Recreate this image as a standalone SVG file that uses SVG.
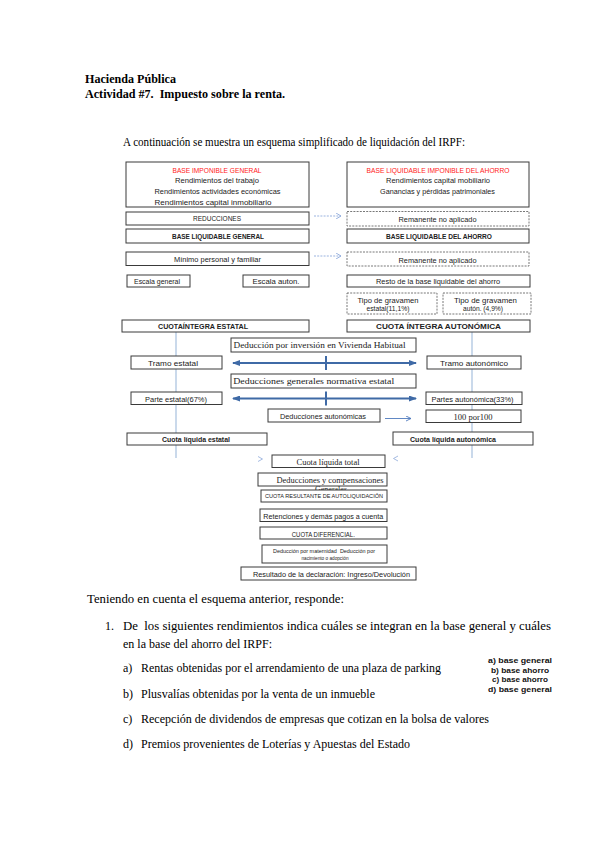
<svg xmlns="http://www.w3.org/2000/svg" width="599" height="848" viewBox="0 0 599 848">
<defs>
<style>
.bx{fill:#fff;stroke:#3a3a3a;stroke-width:1}
.db{fill:#fff;stroke:#555;stroke-width:0.8;stroke-dasharray:2 1.2}
.s{font-family:"Liberation Sans",Arial,sans-serif;font-size:7px;fill:#222;text-anchor:middle}
.sf{font-family:"Liberation Serif","Times New Roman",serif;font-size:8px;fill:#222;text-anchor:middle}
.b{font-weight:bold}
.red{fill:#ff1a1a}
.t{font-family:"Liberation Serif","Times New Roman",serif;font-size:12px;fill:#000}
.hd{font-weight:bold}
.ans{font-family:"Liberation Sans",Arial,sans-serif;font-size:8px;font-weight:bold;fill:#111;text-anchor:middle}
.vl{stroke:#95b3d7;stroke-width:1;fill:none}
.big{stroke:#3f6aa6;stroke-width:2;fill:none}
.da{stroke:#8eaadb;stroke-width:0.9;stroke-dasharray:2 1.2;fill:none}
.thin{stroke:#4f7bbd;stroke-width:0.9;fill:none}
</style>
<marker id="ah" markerWidth="8" markerHeight="6" refX="7" refY="3" orient="auto-start-reverse" markerUnits="userSpaceOnUse">
<path d="M0,0 L8,3 L0,6 Z" fill="#3f6aa6"/>
</marker>
<marker id="oc" markerWidth="6" markerHeight="6" refX="5" refY="3" orient="auto" markerUnits="userSpaceOnUse">
<path d="M0,0 L5,3 L0,6" fill="none" stroke="#8eaadb" stroke-width="0.9"/>
</marker>
<marker id="oc2" markerWidth="6" markerHeight="6" refX="5" refY="3" orient="auto" markerUnits="userSpaceOnUse">
<path d="M0,0.5 L5,3 L0,5.5" fill="none" stroke="#4f7bbd" stroke-width="0.9"/>
</marker>
<clipPath id="genclip"><rect x="258" y="486" width="130" height="4"/></clipPath>
</defs>

<g id="header">
<text class="t hd" x="85" y="83" textLength="91" lengthAdjust="spacingAndGlyphs">Hacienda Pública</text>
<text class="t hd" x="85" y="98" xml:space="preserve" textLength="200" lengthAdjust="spacingAndGlyphs">Actividad #7.  Impuesto sobre la renta.</text>
<text class="t" x="123" y="146" textLength="342" lengthAdjust="spacingAndGlyphs">A continuación se muestra un esquema simplificado de liquidación del IRPF:</text>
</g>

<g id="connectors">
<line class="vl" x1="176" y1="332" x2="176" y2="458"/>
<line class="vl" x1="472" y1="332" x2="472" y2="458"/>
<line class="da" x1="314" y1="216" x2="341" y2="216" marker-end="url(#oc)"/>
<line class="da" x1="314" y1="256" x2="341" y2="256" marker-end="url(#oc)"/>
<line class="big" x1="233" y1="363" x2="416" y2="363" marker-start="url(#ah)" marker-end="url(#ah)"/>
<line class="big" x1="326" y1="356" x2="326" y2="370"/>
<line class="big" x1="233" y1="398.5" x2="416" y2="398.5" marker-start="url(#ah)" marker-end="url(#ah)"/>
<line class="big" x1="326" y1="391.5" x2="326" y2="405.5"/>
<line class="thin" x1="385" y1="418.5" x2="411" y2="418.5" marker-end="url(#oc2)"/>
<path d="M258,456.5 L262.5,459 L258,461.5" fill="none" stroke="#8eaadb" stroke-width="0.8"/>
<path d="M398,456 L393.5,458.5 L398,461" fill="none" stroke="#8eaadb" stroke-width="0.8"/>
</g>

<g id="n-base-imponible-general">
<rect class="bx" x="126" y="162" width="183" height="45"/>
<text class="s red" x="217" y="173" textLength="89" lengthAdjust="spacingAndGlyphs">BASE IMPONIBLE GENERAL</text>
<text class="s" x="217" y="183" textLength="84" lengthAdjust="spacingAndGlyphs">Rendimientos del trabajo</text>
<text class="s" x="217.5" y="193.5" textLength="126" lengthAdjust="spacingAndGlyphs">Rendimientos actividades económicas</text>
<text class="s" x="213" y="205" textLength="117" lengthAdjust="spacingAndGlyphs">Rendimientos capital inmobiliario</text>
</g>
<g id="n-reducciones">
<rect class="bx" x="126" y="212" width="183" height="13"/>
<text class="s" x="217" y="221" textLength="48" lengthAdjust="spacingAndGlyphs">REDUCCIONES</text>
</g>
<g id="n-base-liquidable-general">
<rect class="bx" x="126" y="229" width="183" height="14"/>
<text class="s b" x="218" y="239" textLength="92" lengthAdjust="spacingAndGlyphs">BASE LIQUIDABLE GENERAL</text>
</g>
<g id="n-minimo">
<rect class="bx" x="126" y="252" width="183" height="13.5"/>
<text class="s" x="217.5" y="261.5" textLength="87" lengthAdjust="spacingAndGlyphs">Mínimo personal y familiar</text>
</g>

<g id="n-base-ahorro">
<rect class="bx" x="347" y="162" width="182" height="45"/>
<text class="s red" x="438" y="173" textLength="143" lengthAdjust="spacingAndGlyphs">BASE LIQUIDABLE IMPONIBLE DEL AHORRO</text>
<text class="s" x="438" y="183" textLength="104" lengthAdjust="spacingAndGlyphs">Rendimientos capital mobiliario</text>
<text class="s" x="437.5" y="193.5" textLength="115" lengthAdjust="spacingAndGlyphs">Ganancias y pérdidas patrimoniales</text>
</g>
<g id="n-remanente-1">
<rect class="db" x="347" y="211.5" width="182" height="14.5"/>
<text class="s" x="437.5" y="221.5" textLength="78" lengthAdjust="spacingAndGlyphs">Remanente no aplicado</text>
</g>
<g id="n-base-liquidable-ahorro">
<rect class="bx" x="347" y="229" width="182" height="14"/>
<text class="s b" x="439" y="239" textLength="106" lengthAdjust="spacingAndGlyphs">BASE LIQUIDABLE DEL AHORRO</text>
</g>
<g id="n-remanente-2">
<rect class="db" x="347" y="252" width="182" height="14"/>
<text class="s" x="437.5" y="262.5" textLength="78" lengthAdjust="spacingAndGlyphs">Remanente no aplicado</text>
</g>

<g id="n-escala-general">
<rect class="bx" x="127" y="275" width="63" height="12"/>
<text class="s" x="157" y="284" textLength="46" lengthAdjust="spacingAndGlyphs">Escala general</text>
</g>
<g id="n-escala-auton">
<rect class="bx" x="243" y="275" width="66" height="12"/>
<text class="s" x="276" y="284" textLength="47" lengthAdjust="spacingAndGlyphs">Escala auton.</text>
</g>
<g id="n-resto">
<rect class="bx" x="347" y="275" width="183" height="12"/>
<text class="s" x="438" y="284" textLength="124" lengthAdjust="spacingAndGlyphs">Resto de la base liquidable del ahorro</text>
</g>
<g id="n-tipo-estatal">
<rect class="db" x="347" y="293" width="90" height="21"/>
<text class="s" x="388" y="302.5" textLength="61" lengthAdjust="spacingAndGlyphs">Tipo de gravamen</text>
<text class="s" x="388" y="310.5" textLength="43" lengthAdjust="spacingAndGlyphs">estatal(11,1%)</text>
</g>
<g id="n-tipo-auton">
<rect class="db" x="443" y="293" width="88" height="21"/>
<text class="s" x="485.5" y="302.5" textLength="63" lengthAdjust="spacingAndGlyphs">Tipo de gravamen</text>
<text class="s" x="483" y="310.5" textLength="40" lengthAdjust="spacingAndGlyphs">autón. (4,9%)</text>
</g>

<g id="n-cuota-integra-estatal">
<rect class="bx" x="122" y="320" width="187" height="12"/>
<text class="s b" x="203" y="329" textLength="90" lengthAdjust="spacingAndGlyphs">CUOTAÍNTEGRA ESTATAL</text>
</g>
<g id="n-cuota-integra-auton">
<rect class="bx" x="347" y="320" width="183" height="12"/>
<text class="s b" x="438.5" y="329" textLength="125" lengthAdjust="spacingAndGlyphs">CUOTA ÍNTEGRA AUTONÓMICA</text>
</g>

<g id="n-deduccion-vivienda">
<rect class="bx" x="231" y="338" width="185" height="14"/>
<text class="sf" x="319.5" y="348" textLength="172" lengthAdjust="spacingAndGlyphs">Deducción por inversión en Vivienda Habitual</text>
</g>
<g id="n-tramo-estatal">
<rect class="bx" x="131" y="356" width="91" height="13"/>
<text class="s" x="173" y="365.5" textLength="50" lengthAdjust="spacingAndGlyphs">Tramo estatal</text>
</g>
<g id="n-tramo-auton">
<rect class="bx" x="427" y="356" width="94" height="13"/>
<text class="s" x="474" y="365.5" textLength="68" lengthAdjust="spacingAndGlyphs">Tramo autonómico</text>
</g>
<g id="n-deducciones-generales">
<rect class="bx" x="231" y="374" width="185" height="14"/>
<text class="sf" x="313.7" y="384" textLength="161" lengthAdjust="spacingAndGlyphs">Deducciones generales normativa estatal</text>
</g>
<g id="n-parte-estatal">
<rect class="bx" x="131" y="392" width="91" height="12.5"/>
<text class="s" x="176" y="401.5" textLength="62" lengthAdjust="spacingAndGlyphs">Parte estatal(67%)</text>
</g>
<g id="n-partes-auton">
<rect class="bx" x="426" y="392" width="96" height="12.5"/>
<text class="s" x="472.5" y="401.5" textLength="82" lengthAdjust="spacingAndGlyphs">Partes autonómica(33%)</text>
</g>
<g id="n-deducciones-auton">
<rect class="bx" x="268" y="409" width="112" height="13"/>
<text class="s" x="323" y="418.5" textLength="86" lengthAdjust="spacingAndGlyphs">Deducciones autonómicas</text>
</g>
<g id="n-100por100">
<rect class="bx" x="426" y="410" width="95" height="12.5"/>
<text class="sf" x="473" y="419.5" textLength="39" lengthAdjust="spacingAndGlyphs">100 por100</text>
</g>
<g id="n-cuota-liquida-estatal">
<rect class="bx" x="127" y="433" width="140" height="12"/>
<text class="s b" x="196" y="442" textLength="68" lengthAdjust="spacingAndGlyphs">Cuota líquida estatal</text>
</g>
<g id="n-cuota-liquida-auton">
<rect class="bx" x="393" y="432" width="140" height="13"/>
<text class="s b" x="453" y="441.5" textLength="86" lengthAdjust="spacingAndGlyphs">Cuota líquida autonómica</text>
</g>

<g id="n-cuota-liquida-total">
<rect class="bx" x="272" y="455" width="113" height="12.5"/>
<text class="sf" x="328" y="464.5" textLength="63" lengthAdjust="spacingAndGlyphs">Cuota líquida total</text>
</g>
<g id="n-deducciones-compensaciones">
<rect class="bx" x="258" y="473" width="129" height="13"/>
<text class="sf" x="330" y="482.5" textLength="107" lengthAdjust="spacingAndGlyphs">Deducciones y compensaciones</text>
<text class="sf" x="331" y="492" clip-path="url(#genclip)" textLength="32" lengthAdjust="spacingAndGlyphs">Generales</text>
</g>
<g id="n-cuota-resultante">
<rect class="bx" x="261" y="490" width="126" height="12"/>
<text class="s" x="324" y="498" style="font-size:5.5px" textLength="118" lengthAdjust="spacingAndGlyphs">CUOTA RESULTANTE DE AUTOLIQUIDACIÓN</text>
</g>
<g id="n-retenciones">
<rect class="bx" x="260" y="509" width="127" height="12.5"/>
<text class="s" x="323.3" y="518.5" style="font-size:7.5px" textLength="120" lengthAdjust="spacingAndGlyphs">Retenciones y demás pagos a cuenta</text>
</g>
<g id="n-cuota-diferencial">
<rect class="bx" x="260" y="527" width="127" height="12"/>
<text class="s" x="323.3" y="536.5" style="font-size:7.5px" textLength="63" lengthAdjust="spacingAndGlyphs">CUOTA DIFERENCIAL.</text>
</g>
<g id="n-deduccion-maternidad">
<rect class="bx" x="262" y="545" width="125" height="18"/>
<text class="s" x="324" y="552.5" style="font-size:5px" xml:space="preserve" textLength="102" lengthAdjust="spacingAndGlyphs">Deducción por maternidad  Deducción por</text>
<text class="s" x="325" y="560" style="font-size:5px" textLength="47" lengthAdjust="spacingAndGlyphs">nacimiento o adopción</text>
</g>
<g id="n-resultado">
<rect class="bx" x="241" y="567" width="175" height="13"/>
<text class="s" x="331.5" y="576.5" style="font-size:7.5px" textLength="157" lengthAdjust="spacingAndGlyphs">Resultado de la declaración: Ingreso/Devolución</text>
</g>

<g id="questions">
<text class="t" x="87" y="603" textLength="257" lengthAdjust="spacingAndGlyphs">Teniendo en cuenta el esquema anterior, responde:</text>
<text class="t" x="105" y="630">1.</text>
<text class="t" x="123" y="630" xml:space="preserve" textLength="428" lengthAdjust="spacingAndGlyphs">De  los siguientes rendimientos indica cuáles se integran en la base general y cuáles</text>
<text class="t" x="123" y="648" textLength="149" lengthAdjust="spacingAndGlyphs">en la base del ahorro del IRPF:</text>
<text class="t" x="123" y="672">a)</text>
<text class="t" x="141" y="672" textLength="300" lengthAdjust="spacingAndGlyphs">Rentas obtenidas por el arrendamiento de una plaza de parking</text>
<text class="t" x="123" y="698">b)</text>
<text class="t" x="141" y="698" textLength="234" lengthAdjust="spacingAndGlyphs">Plusvalías obtenidas por la venta de un inmueble</text>
<text class="t" x="123" y="723">c)</text>
<text class="t" x="141" y="723" textLength="348" lengthAdjust="spacingAndGlyphs">Recepción de dividendos de empresas que cotizan en la bolsa de valores</text>
<text class="t" x="123" y="748">d)</text>
<text class="t" x="141" y="748" textLength="269" lengthAdjust="spacingAndGlyphs">Premios provenientes de Loterías y Apuestas del Estado</text>
</g>
<g id="answers">
<text class="ans" x="520" y="663" textLength="64" lengthAdjust="spacingAndGlyphs">a) base general</text>
<text class="ans" x="520" y="673" textLength="58" lengthAdjust="spacingAndGlyphs">b) base ahorro</text>
<text class="ans" x="520" y="682" textLength="56" lengthAdjust="spacingAndGlyphs">c) base ahorro</text>
<text class="ans" x="520" y="692" textLength="64" lengthAdjust="spacingAndGlyphs">d) base general</text>
</g>
</svg>
